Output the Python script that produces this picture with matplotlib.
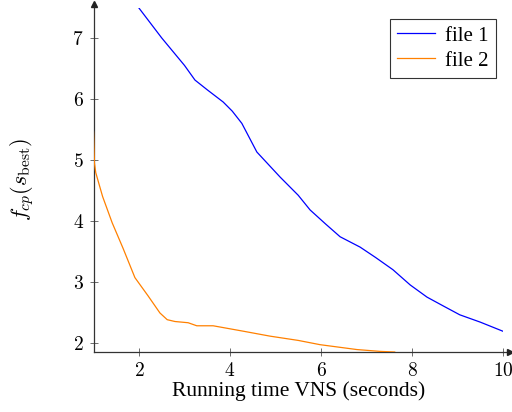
import matplotlib.pyplot as plt

plt.rcParams['font.family'] = ['Liberation Serif', 'DejaVu Serif']
plt.rcParams['mathtext.fontset'] = 'cm'

# file 1 (blue)
x1 = [2.0, 2.5, 3.0, 3.23, 3.5, 3.85, 4.05, 4.26, 4.59, 5.1, 5.5, 5.76, 6.1, 6.42, 6.86, 7.2, 7.58, 7.96, 8.33, 8.7, 9.05, 9.5, 10.0]
y1 = [7.49, 7.0, 6.55, 6.31, 6.15, 5.95, 5.8, 5.6, 5.13, 4.72, 4.42, 4.18, 3.95, 3.74, 3.57, 3.4, 3.2, 2.95, 2.75, 2.6, 2.46, 2.34, 2.19]

# file 2 (orange)
x2 = [1.0, 1.02, 1.05, 1.2, 1.41, 1.65, 1.91, 2.2, 2.46, 2.62, 2.79, 3.08, 3.27, 3.63, 4.3, 4.88, 5.5, 5.98, 6.79, 7.3, 7.62]
y2 = [5.46, 4.95, 4.79, 4.4, 3.97, 3.55, 3.07, 2.77, 2.49, 2.38, 2.35, 2.33, 2.28, 2.28, 2.19, 2.11, 2.04, 1.97, 1.89, 1.86, 1.85]

xticks = [2, 4, 6, 8, 10]
yticks = [2, 3, 4, 5, 6, 7]

fig = plt.figure(figsize=(5.12, 4.12), dpi=100)
ax = fig.add_axes([93.5 / 512, 60 / 412, 409.5 / 512, 344.5 / 412])

ax.plot(x1, y1, color='#0000ff', lw=0.9, label='file 1', zorder=3)
ax.plot(x2, y2, color='#ff8000', lw=0.9, label='file 2', zorder=3)

ax.set_xlim(1, 10)
ax.set_ylim(1.85, 7.5)
ax.set_xticks(xticks)
ax.set_xticklabels(['$%d$' % t for t in xticks])
ax.set_yticks(yticks)
ax.set_yticklabels(['$%d$' % t for t in yticks])
ax.tick_params(direction='inout', length=6, width=0.6, color='#555555', labelsize=14, pad=4)

for s in ['top', 'right']:
    ax.spines[s].set_visible(False)
for s in ['left', 'bottom']:
    ax.spines[s].set_color('#333333')
    ax.spines[s].set_linewidth(0.9)

# arrow heads on the axis lines
ax.plot([1, 1.018], [0, 0], color='#333333', lw=0.9, transform=ax.transAxes, clip_on=False)
ax.plot(1.018, 0, marker='>', color='#222222', ms=5, transform=ax.transAxes, clip_on=False)
ax.plot(0, 1.01, marker='^', color='#222222', ms=5, transform=ax.transAxes, clip_on=False)

ax.set_xlabel('Running time VNS (seconds)', fontsize=15.5, labelpad=1)
ax.set_ylabel(r'$f_{cp}(s_{\rm best})$', fontsize=16, labelpad=26)

leg = ax.legend(loc='upper right', bbox_to_anchor=(0.983, 0.967), fontsize=15,
                frameon=True, fancybox=False, edgecolor='black', handlelength=1.8,
                borderaxespad=0, handletextpad=0.5, labelspacing=0.25,
                borderpad=0.35)
leg.get_frame().set_linewidth(0.8)

fig.savefig('out.png', dpi=100)
